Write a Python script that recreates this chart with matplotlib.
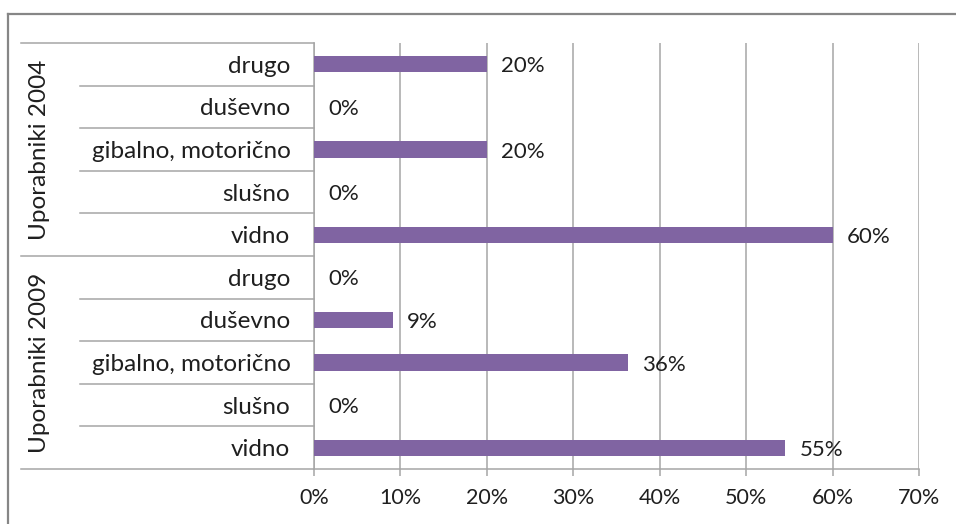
import matplotlib
matplotlib.use("Agg")
import matplotlib.pyplot as plt
import matplotlib.transforms as mtransforms
from matplotlib.lines import Line2D

plt.rcParams['font.family'] = ['Lato', 'DejaVu Sans']

groups = ["Uporabniki 2004", "Uporabniki 2009"]
categories = ["drugo", "duševno", "gibalno, motorično", "slušno", "vidno"]
users_2004 = [20.0, 0.0, 20.0, 0.0, 60.0]
users_2009 = [0.0, 9.09, 36.36, 0.0, 54.55]
x_ticks = [0, 10, 20, 30, 40, 50, 60, 70]

BAR = "#8064a2"
GRID = "#a6a6a6"
FRAME = "#868686"
TEXT = "#1f1f1f"

W, H = 956, 524
fig = plt.figure(figsize=(W / 100, H / 100), dpi=100)
x0, x1, y0, y1 = 314, 919, 43, 469
ax = fig.add_axes([x0 / W, 1 - y1 / H, (x1 - x0) / W, (y1 - y0) / H])

labels = categories + categories
values = users_2004 + users_2009
ypos = list(range(len(values)))

ax.barh(ypos, values, height=0.38, color=BAR, edgecolor="none", zorder=3)
ax.set_xlim(0, 70)
ax.set_ylim(len(values) - 0.5, -0.5)

# value labels at the end of each bar
for y, v in zip(ypos, values):
    ax.annotate(f"{v:.0f}%", (v, y), xytext=(10, -1.5), textcoords="offset points",
                va="center", ha="left", fontsize=16, color=TEXT, zorder=4)

ax.set_xticks(x_ticks)
ax.set_xticklabels([f"{t}%" for t in x_ticks])
ax.xaxis.grid(True, color=GRID, linewidth=1.1, zorder=0)
ax.tick_params(axis="x", length=5, width=1.1, color=GRID, labelsize=15.5,
               labelcolor=TEXT, pad=9)

ax.set_yticks(ypos)
ax.set_yticklabels(labels)
ax.tick_params(axis="y", length=0, labelsize=17.5, labelcolor=TEXT, pad=17)

for side in ["top", "right"]:
    ax.spines[side].set_visible(False)
ax.spines["left"].set_color(GRID)
ax.spines["left"].set_linewidth(1.1)
ax.spines["bottom"].set_color(GRID)
ax.spines["bottom"].set_linewidth(1.1)

# category separators in the label area
trans = mtransforms.blended_transform_factory(ax.transAxes, ax.transData)
inner_x = (80 - x0) / (x1 - x0)
outer_x = (21 - x0) / (x1 - x0)
n = len(categories)
for b in range(len(values) + 1):
    start = outer_x if b % n == 0 else inner_x
    ax.plot([start, 0], [b - 0.5, b - 0.5], color=GRID, linewidth=1.1,
            transform=trans, clip_on=False, zorder=2)

# rotated group names
for g, name in enumerate(groups):
    ax.text((40 - x0) / (x1 - x0), g * n + (n - 1) / 2, name, rotation=90,
            ha="center", va="center", fontsize=17.5, color=TEXT,
            transform=trans)

# chart frame
fig.add_artist(Line2D([8 / W, 1], [1 - 14 / H, 1 - 14 / H], color=FRAME,
                      linewidth=1.6, transform=fig.transFigure))
fig.add_artist(Line2D([8 / W, 8 / W], [0, 1 - 14 / H], color=FRAME,
                      linewidth=1.6, transform=fig.transFigure))

fig.savefig("out.png", dpi=100)
